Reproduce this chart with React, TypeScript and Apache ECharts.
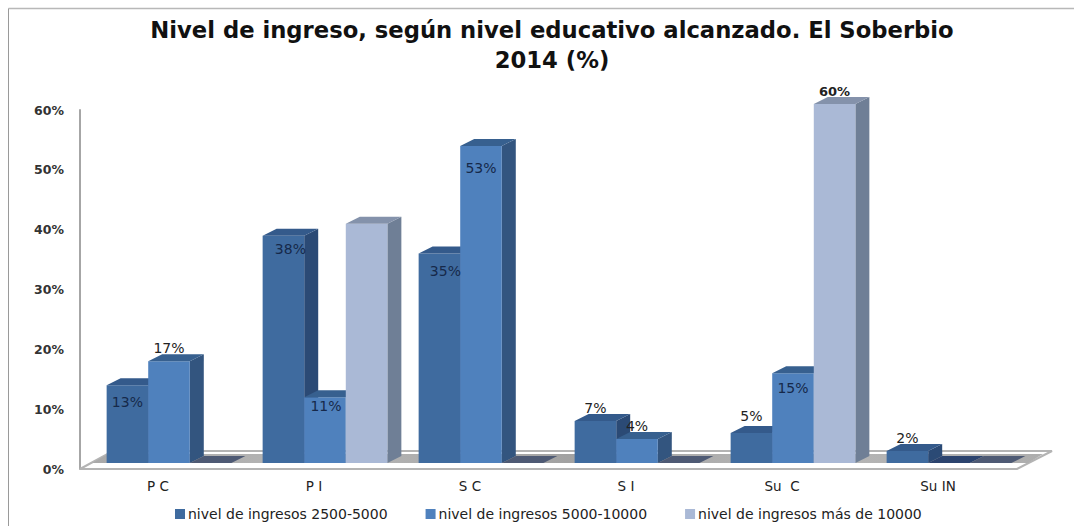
import React, { useEffect, useRef } from "react";
import * as echarts from "echarts";

const categories = ["P C", "P I", "S C", "S I", "Su  C", "Su IN"];
const tickLabels = ["0%", "10%", "20%", "30%", "40%", "50%", "60%"];
const seriesNames = ["nivel de ingresos 2500-5000", "nivel de ingresos 5000-10000", "nivel de ingresos más de 10000"];
const ingresosBajos = [13, 38, 35, 7, 5, 2];
const ingresosMedios = [17, 11, 53, 4, 15, 0];
const ingresosAltos = [0, 40, 0, 0, 60, 0];
const titleText = "Nivel de ingreso, según nivel educativo alcanzado. El Soberbio\n2014 (%)";

// Label placement relative to the top of the bar's front face (null = no label)
const labelDy = [
  [17, 13, 17, -13, -17, -13],
  [-13, 9, 22, -13, 15, null],
  [null, null, null, null, -13, null],
];
const labelDx = [
  [0, 7, 6, 0, 0, 0],
  [0, 1, 0, 0, 0, 0],
  [0, 0, 0, 0, 0, 0],
];

const palette = [
  { front: "#3f6b9f", top: "#345a8b", side: "#2b4a75", zeroTop: "#2a4068" },
  { front: "#4f81bd", top: "#37608f", side: "#33557f", zeroTop: "#2b436e" },
  { front: "#aab9d6", top: "#8492ab", side: "#6f7f96", zeroTop: "#4e5a74" },
];

const FONT = '"DejaVu Sans", Verdana, sans-serif';
const DX = 14;
const DY = 7;
const BASE_SHIFT_X = 11;
const BASE_SHIFT_Y = -6;
const BAR_SHARE = 0.2665;

function barRenderer(seriesIndex: number) {
  return (params: any, api: any) => {
    const idx = api.value(0);
    const val = api.value(1);
    const band = api.size([1, 0])[0];
    const w = band * BAR_SHARE;
    const center = api.coord([idx, 0]);
    const top = api.coord([idx, val]);
    const x0 = center[0] + BASE_SHIFT_X + (seriesIndex - 1.5) * w;
    const x1 = x0 + w;
    const yb = center[1] + BASE_SHIFT_Y;
    const yt = top[1] + BASE_SHIFT_Y;
    const c = palette[seriesIndex];
    const children: any[] = [];
    if (val > 0) {
      children.push({
        type: "polygon",
        shape: { points: [[x1, yb], [x1 + DX, yb - DY], [x1 + DX, yt - DY], [x1, yt]] },
        style: { fill: c.side },
      });
      children.push({
        type: "rect",
        shape: { x: x0, y: yt, width: w, height: yb - yt },
        style: { fill: c.front },
      });
    }
    children.push({
      type: "polygon",
      shape: { points: [[x0, yt], [x0 + DX, yt - DY], [x1 + DX, yt - DY], [x1, yt]] },
      style: { fill: val > 0 ? c.top : c.zeroTop },
    });
    return { type: "group", children };
  };
}

function labelRenderer(seriesIndex: number) {
  return (params: any, api: any) => {
    const idx = api.value(0);
    const val = api.value(1);
    const dy = labelDy[seriesIndex][idx];
    if (dy === null) return { type: "group", children: [] };
    const band = api.size([1, 0])[0];
    const w = band * BAR_SHARE;
    const center = api.coord([idx, val]);
    const x = center[0] + BASE_SHIFT_X + (seriesIndex - 1) * w + labelDx[seriesIndex][idx];
    const y = center[1] + BASE_SHIFT_Y + dy;
    const bold = val === 60;
    return {
      type: "text",
      z2: 50,
      style: {
        x,
        y,
        text: `${val}%`,
        fill: dy > 0 ? "#16294a" : "#222222",
        font: `${bold ? "bold " : ""}${bold ? 13 : 14}px ${FONT}`,
        align: "center",
        verticalAlign: "middle",
      },
    };
  };
}

function floorRenderer(params: any) {
  const r = params.coordSys;
  const L = r.x;
  const R = r.x + r.width;
  const B = r.y + r.height;
  const mk = (pts: number[][], style: any) => ({ type: "polygon", shape: { points: pts }, style });
  return {
    type: "group",
    children: [
      mk(
        [[L, B], [R + 1, B], [R + 36, B - 18], [L + 33, B - 18]],
        { fill: "#ffffff", stroke: "#b4b4b4", lineWidth: 2 }
      ),
      mk(
        [[L + 12, B - 6], [R + 12, B - 6], [R + 27, B - 15], [L + 28, B - 15]],
        {
          fill: {
            type: "linear", x: 0, y: 0, x2: 1, y2: 0,
            colorStops: [
              { offset: 0, color: "#a9a9a9" },
              { offset: 0.25, color: "#b6b6b6" },
              { offset: 0.5, color: "#a2a2a2" },
              { offset: 0.75, color: "#b6b6b6" },
              { offset: 1, color: "#adadad" },
            ],
          },
        }
      ),
    ],
  };
}

const seriesValues = [ingresosBajos, ingresosMedios, ingresosAltos];

export default function App() {
  const ref = useRef<HTMLDivElement>(null);
  useEffect(() => {
    const chart = echarts.init(ref.current!, null, { renderer: "svg" });
    const barSeries = seriesValues.map((vals, i) => ({
      type: "custom",
      name: seriesNames[i],
      coordinateSystem: "cartesian2d",
      renderItem: barRenderer(i),
      data: vals.map((v, k) => [k, v]),
      encode: { x: 0, y: 1 },
      itemStyle: { color: palette[i].front },
      clip: false,
      z: 3 + i,
    }));
    const labelSeries = seriesValues.map((vals, i) => ({
      type: "custom",
      name: `label-${i}`,
      coordinateSystem: "cartesian2d",
      renderItem: labelRenderer(i),
      data: vals.map((v, k) => [k, v]),
      encode: { x: 0, y: 1 },
      clip: false,
      silent: true,
      z: 10,
    }));
    chart.setOption({
      animation: false,
      backgroundColor: "#ffffff",
      title: {
        text: titleText,
        left: 547,
        top: 10,
        textAlign: "center",
        textStyle: { fontFamily: FONT, fontWeight: "bold", fontSize: 22.7, lineHeight: 30, color: "#111111" },
      },
      graphic: [
        { type: "line", shape: { x1: 8.5, y1: 8.5, x2: 1074, y2: 8.5 }, style: { stroke: "#b8b8b8", lineWidth: 1.5 } },
        { type: "line", shape: { x1: 8.5, y1: 8.5, x2: 8.5, y2: 526 }, style: { stroke: "#9a9a9a", lineWidth: 1 } },
      ],
      legend: {
        data: seriesNames,
        left: 170,
        top: 502,
        itemWidth: 10,
        itemHeight: 10,
        itemGap: 38,
        icon: "rect",
        textStyle: { fontFamily: FONT, fontSize: 14, color: "#222222", padding: [0, 0, 0, -2] },
      },
      grid: { left: 80, top: 110, width: 936, height: 359 },
      xAxis: {
        type: "category",
        data: categories,
        axisLine: { show: false },
        axisTick: { show: false },
        axisLabel: { margin: 10, fontFamily: FONT, fontSize: 13.5, color: "#222222" },
      },
      yAxis: {
        type: "value",
        min: 0,
        max: 60,
        interval: 10,
        axisLine: { show: true, lineStyle: { color: "#a6a6a6", width: 2 } },
        axisTick: { show: false },
        splitLine: { show: false },
        axisLabel: {
          margin: 16,
          fontFamily: FONT,
          fontWeight: "bold",
          fontSize: 12.5,
          color: "#333333",
          formatter: (v: number) => tickLabels[v / 10],
        },
      },
      series: [
        {
          type: "custom",
          name: "floor",
          coordinateSystem: "cartesian2d",
          renderItem: floorRenderer,
          data: [[0, 0]],
          encode: { x: 0, y: 1 },
          clip: false,
          silent: true,
          z: 1,
        },
        ...barSeries,
        ...labelSeries,
      ],
    });
    return () => chart.dispose();
  }, []);
  return <div ref={ref} style={{ position: "absolute", left: 0, top: 0, width: 1074, height: 526 }} />;
}
